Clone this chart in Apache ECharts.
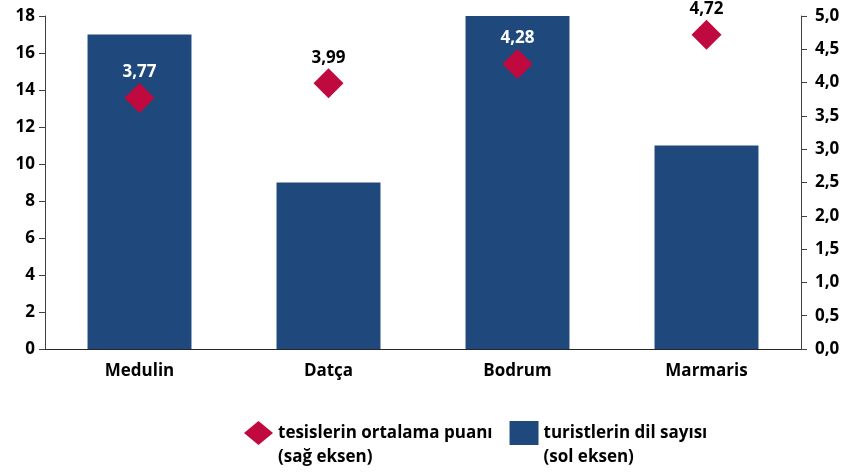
<!DOCTYPE html>
<html>
<head>
<meta charset="utf-8">
<script src="https://cdn.jsdelivr.net/npm/echarts@6/dist/echarts.min.js"></script>
<style>
  html, body { margin: 0; padding: 0; background: #fff; }
  #chart { width: 844px; height: 472px; }
</style>
</head>
<body>
<div id="chart"></div>
<script>
// Destinations and their values
const categories = ['Medulin', 'Datça', 'Bodrum', 'Marmaris'];
const languageCounts = [17, 9, 18, 11];          // turistlerin dil sayısı (sol eksen)
const averageScores = [3.77, 3.99, 4.28, 4.72];   // tesislerin ortalama puanı (sağ eksen)
const scoreLabelColors = ['#ffffff', '#000000', '#ffffff', '#000000'];

const FONT = '"Open Sans", "DejaVu Sans", sans-serif';
const fmtComma = (v, d) => v.toFixed(d).replace('.', ',');

const chart = echarts.init(document.getElementById('chart'), null, { renderer: 'canvas' });

chart.setOption({
  animation: false,
  textStyle: { fontFamily: FONT },
  grid: { left: 45, right: 43, top: 16, bottom: 123, containLabel: false },
  legend: {
    left: 239,
    top: 392,
    itemGap: 17,
    itemWidth: 29,
    itemHeight: 24,
    // leading blank line keeps the marker level with the first text line
    formatter: name => '\n' + name,
    textStyle: {
      fontFamily: FONT, fontWeight: 'bold', fontSize: 17, color: '#000',
      lineHeight: 24
    },
    data: [
      { name: 'tesislerin ortalama puanı\n(sağ eksen)', icon: 'diamond' },
      { name: 'turistlerin dil sayısı\n(sol eksen)', icon: 'rect' }
    ]
  },
  xAxis: {
    type: 'category',
    data: categories,
    axisLine: { lineStyle: { color: '#262626', width: 1 } },
    axisTick: { show: false },
    axisLabel: { fontFamily: FONT, fontWeight: 'bold', fontSize: 17, color: '#000', margin: 14 }
  },
  yAxis: [
    {
      type: 'value', min: 0, max: 18, interval: 2,
      axisLine: { show: true, lineStyle: { color: '#404040' } },
      axisTick: { show: true, length: 6, lineStyle: { color: '#404040' } },
      splitLine: { show: false },
      axisLabel: { fontFamily: FONT, fontWeight: 'bold', fontSize: 17, color: '#000', margin: 10 }
    },
    {
      type: 'value', min: 0, max: 5, interval: 0.5, position: 'right',
      axisLine: { show: true, lineStyle: { color: '#404040' } },
      axisTick: { show: true, length: 6, lineStyle: { color: '#404040' } },
      splitLine: { show: false },
      axisLabel: {
        fontFamily: FONT, fontWeight: 'bold', fontSize: 17, color: '#000', margin: 14,
        formatter: v => fmtComma(v, 1)
      }
    }
  ],
  series: [
    {
      name: 'turistlerin dil sayısı\n(sol eksen)',
      type: 'bar',
      yAxisIndex: 0,
      data: languageCounts,
      barWidth: '55%',
      itemStyle: { color: '#1F497D' },
      z: 1
    },
    {
      name: 'tesislerin ortalama puanı\n(sağ eksen)',
      type: 'scatter',
      yAxisIndex: 1,
      symbol: 'diamond',
      symbolSize: 30,
      itemStyle: { color: '#C0093E', opacity: 1 },
      data: averageScores.map((v, i) => ({
        value: v,
        label: { color: scoreLabelColors[i] }
      })),
      label: {
        show: true,
        position: 'top',
        distance: 2,
        fontFamily: FONT, fontWeight: 'bold', fontSize: 17,
        formatter: p => fmtComma(p.value, 2)
      },
      z: 3
    }
  ]
});
</script>
</body>
</html>
